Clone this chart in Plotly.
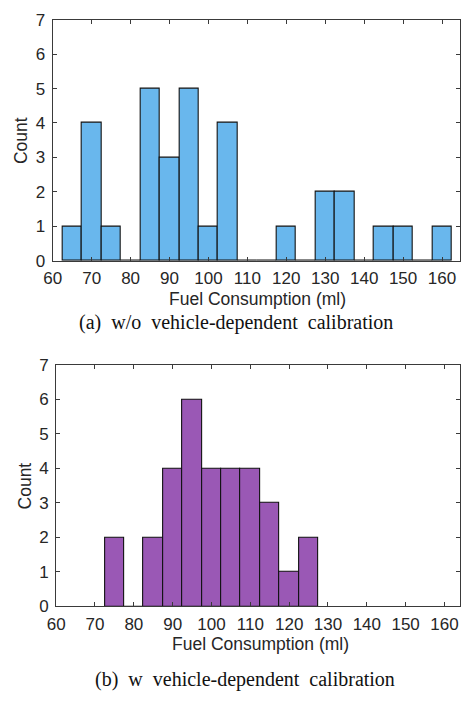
import plotly.graph_objects as go

# ---- data ----
bin_width = 5
top_bin_start = 62.5
top_counts = [1, 4, 1, 0, 5, 3, 5, 1, 4, 0, 0, 1, 0, 2, 2, 0, 1, 1, 0, 1]
bot_bin_start = 72.5
bot_counts = [2, 0, 2, 4, 6, 4, 4, 4, 3, 1, 2]
x_ticks = [60, 70, 80, 90, 100, 110, 120, 130, 140, 150, 160]
y_ticks = [0, 1, 2, 3, 4, 5, 6, 7]
x_title = "Fuel Consumption (ml)"
y_title = "Count"
cap_top = "(a)\u00a0\u00a0w/o\u00a0\u00a0vehicle-dependent\u00a0\u00a0calibration"
cap_bot = "(b)\u00a0\u00a0w\u00a0\u00a0vehicle-dependent\u00a0\u00a0calibration"

W, H = 461, 704


def centers(start, counts):
    return [start + bin_width * (i + 0.5) for i in range(len(counts))]


def px(x):
    return x / W


def py(y):
    return 1 - y / H


fig = go.Figure()
fig.add_trace(go.Bar(x=centers(top_bin_start, top_counts), y=top_counts, width=bin_width,
                     marker=dict(color="#69b7ed", line=dict(color="#111111", width=1.1)),
                     xaxis="x", yaxis="y", showlegend=False))
fig.add_trace(go.Bar(x=centers(bot_bin_start, bot_counts), y=bot_counts, width=bin_width,
                     marker=dict(color="#9a58b5", line=dict(color="#111111", width=1.1)),
                     xaxis="x2", yaxis="y2", showlegend=False))

tickfont = dict(family="Liberation Sans, Arial, sans-serif", size=17, color="#262626")
common_x = dict(tickvals=x_ticks, showgrid=False, zeroline=False, showline=True, mirror="ticks",
                linecolor="#3a3a3a", linewidth=1, ticks="inside", ticklen=4, tickcolor="#3a3a3a",
                tickfont=tickfont, ticklabelstandoff=2)
common_y = dict(tickvals=y_ticks, showgrid=False, zeroline=False, showline=True, mirror="ticks",
                linecolor="#3a3a3a", linewidth=1, ticks="inside", ticklen=4, tickcolor="#3a3a3a",
                tickfont=tickfont, range=[0, 7], ticklabelstandoff=3)

fig.update_layout(
    width=W, height=H, margin=dict(l=0, r=0, t=0, b=0),
    paper_bgcolor="white", plot_bgcolor="white", bargap=0,
    xaxis=dict(domain=[px(44.6), px(460.3)], range=[60, 164.7], anchor="y", **common_x),
    yaxis=dict(domain=[py(258.7), py(11)], anchor="x", **common_y),
    xaxis2=dict(domain=[px(48.1), px(460)], range=[60, 164.0], anchor="y2", **common_x),
    yaxis2=dict(domain=[py(614), py(365.7)], anchor="x2", **common_y),
)

lab = dict(family="Liberation Sans, Arial, sans-serif", size=17.5, color="#262626")
cap = dict(family="Liberation Serif, Times New Roman, serif", size=20, color="#111111")
ann = [
    dict(text=x_title, x=px(253), y=py(298), font=lab),
    dict(text=y_title, x=px(13), y=py(135), font=lab, textangle=-90),
    dict(text=cap_top, x=px(232), y=py(322), font=cap),
    dict(text=x_title, x=px(256), y=py(652.7), font=lab),
    dict(text=y_title, x=px(16), y=py(490), font=lab, textangle=-90),
    dict(text=cap_bot, x=px(241), y=py(689.3), font=cap),
]
for a in ann:
    fig.add_annotation(xref="paper", yref="paper", xanchor="center", yanchor="middle",
                       showarrow=False, **a)

fig.write_html("out.html")
